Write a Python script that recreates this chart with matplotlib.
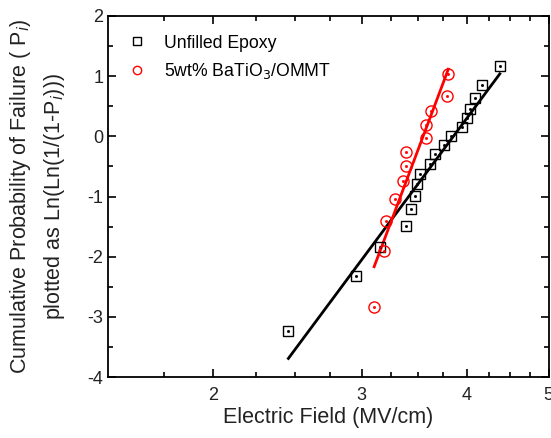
import numpy as np
import matplotlib.pyplot as plt
from matplotlib.ticker import FixedLocator, NullFormatter, FixedFormatter

plt.rcParams['font.family'] = ['Liberation Sans', 'DejaVu Sans']
plt.rcParams['axes.unicode_minus'] = False

# Unfilled epoxy (field in MV/cm, Weibull ln(ln(1/(1-P))))
epoxy_field = [2.455, 2.954, 3.149, 3.387, 3.428, 3.465, 3.491, 3.514, 3.618,
               3.667, 3.752, 3.824, 3.941, 4.003, 4.029, 4.085, 4.168, 4.374]
epoxy_y = [-3.23, -2.32, -1.834, -1.49, -1.215, -0.994, -0.79, -0.619, -0.453,
           -0.293, -0.149, 0.0, 0.155, 0.304, 0.459, 0.641, 0.851, 1.166]

# 5wt% BaTiO3/OMMT
comp_field = [3.103, 3.192, 3.206, 3.287, 3.362, 3.381, 3.387, 3.578, 3.578,
              3.627, 3.786, 3.80]
comp_y = [-2.83, -1.906, -1.398, -1.039, -0.746, -0.486, -0.26, -0.033, 0.182,
          0.414, 0.669, 1.039]

# fitted lines (end points)
epoxy_fit_x = [2.455, 4.374]
epoxy_fit_y = [-3.69, 1.039]
comp_fit_x = [3.103, 3.80]
comp_fit_y = [-2.166, 1.116]

x_major = [2, 3, 4, 5]
x_minor = [1.75, 2.25, 2.5, 2.75, 3.25, 3.5, 3.75, 4.25, 4.5, 4.75]

fig = plt.figure(figsize=(5.51, 4.38), dpi=100)
ax = fig.add_axes([0.196, 0.139, 0.8, 0.8245])

ax.plot(epoxy_fit_x, epoxy_fit_y, color='black', lw=2)
ax.plot(comp_fit_x, comp_fit_y, color='red', lw=2)

ax.plot(epoxy_field, epoxy_y, ls='none', marker='s', ms=7, mfc='none',
        mec='black', mew=1, label='Unfilled Epoxy')
ax.plot(epoxy_field, epoxy_y, ls='none', marker='s', ms=1, color='black')
ax.plot(comp_field, comp_y, ls='none', marker='o', ms=8, mfc='none',
        mec='red', mew=1, label='5wt% BaTiO$_3$/OMMT')
ax.plot(comp_field, comp_y, ls='none', marker='s', ms=1, color='red')

ax.set_xscale('log')
ax.set_xlim(1.5, 5)
ax.set_ylim(-4, 2)
ax.xaxis.set_major_locator(FixedLocator(x_major))
ax.xaxis.set_major_formatter(FixedFormatter([str(v) for v in x_major]))
ax.xaxis.set_minor_locator(FixedLocator(x_minor))
ax.xaxis.set_minor_formatter(NullFormatter())
ax.set_yticks(np.arange(-4, 3, 1))
ax.set_yticks(np.arange(-4, 2.01, 0.5), minor=True)

ax.tick_params(which='both', direction='in', top=True, right=True,
               labelsize=13, labelcolor='#222222', color='black', width=1.2)
ax.tick_params(which='major', length=6)
ax.tick_params(which='minor', length=3.5)
ax.tick_params(axis='x', which='major', pad=7)
for s in ax.spines.values():
    s.set_linewidth(1.3)

ax.set_xlabel('Electric Field (MV/cm)', fontsize=15.5, color='#222222', labelpad=2)
ax.set_ylabel('Cumulative Probability of Failure ( P$_i$)\nplotted as Ln(Ln(1/(1-P$_i$)))',
              fontsize=15.5, color='#222222', linespacing=1.5)
ax.yaxis.set_label_coords(-0.093, 0.5)

ax.legend(loc='upper left', frameon=False, fontsize=12.7, handletextpad=0.9,
          borderaxespad=0.6, labelspacing=0.55, handlelength=1.2,
          borderpad=0.45, markerscale=0.75)

fig.savefig('out.png', dpi=100)
